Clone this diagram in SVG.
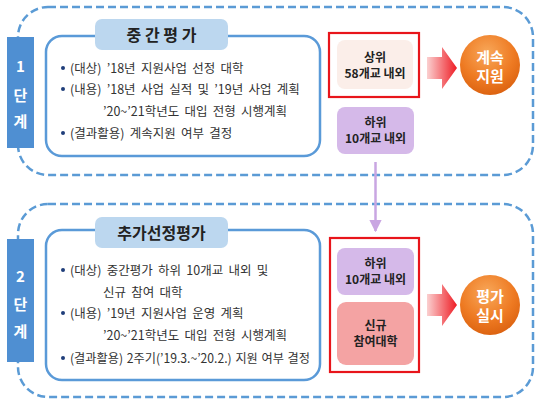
<svg xmlns="http://www.w3.org/2000/svg" width="540" height="405" viewBox="0 0 540 405">
<defs>
<style>
.outer{fill:none;stroke:#5b9bd5;stroke-width:2.5;stroke-dasharray:8 4}
.label{fill:#4f8fd2}
.lt{font-family:"Noto Sans CJK KR","Noto Sans",sans-serif;font-weight:bold;font-size:15px;fill:#fff;text-anchor:middle}
.inner{fill:#fff;stroke:#5a9ad8;stroke-width:2.5}
.pill{fill:#bcd7ef}
.title{font-family:"Noto Sans CJK KR","Noto Sans",sans-serif;font-weight:bold;font-size:16px;fill:#222;text-anchor:middle}
.body{font-family:"Noto Sans CJK KR","Noto Sans",sans-serif;font-size:12.5px;word-spacing:2.5px;fill:#333}
.dot{fill:#1f3e7a}
.redbox{fill:#fff;stroke:#e8151b;stroke-width:2.2}
.bt{font-family:"Noto Sans CJK KR","Noto Sans",sans-serif;font-weight:bold;font-size:12px;fill:#222;text-anchor:middle}
.ct{font-family:"Noto Sans CJK KR","Noto Sans",sans-serif;font-weight:bold;font-size:15px;fill:#fff;text-anchor:middle}
</style>
<linearGradient id="rg" x1="0" y1="0" x2="1" y2="0">
<stop offset="0" stop-color="#fbd0d0"/>
<stop offset="1" stop-color="#ee1c24"/>
</linearGradient>
<radialGradient id="og" cx="0.45" cy="0.3" r="0.75">
<stop offset="0" stop-color="#f8a85a"/>
<stop offset="0.6" stop-color="#ee7a22"/>
<stop offset="1" stop-color="#d95f0e"/>
</radialGradient>
<marker id="pa" viewBox="0 0 10 10" refX="9" refY="5" markerWidth="5" markerHeight="5" orient="auto">
<path d="M0,0 L10,5 L0,10 z" fill="#c9a6e2"/>
</marker>
</defs>
<rect width="540" height="405" fill="#fff"/>

<g id="stage1">
<rect class="outer" x="18" y="7" width="515" height="168" rx="30"/>
<rect class="label" x="7" y="37" width="27" height="111"/>
<text class="lt" x="20.5" y="72">1</text>
<text class="lt" x="20.5" y="101">단</text>
<text class="lt" x="20.5" y="127">계</text>
</g>

<g id="eval1">
<rect class="inner" x="46" y="36" width="274" height="120" rx="16"/>
<rect class="pill" x="95" y="19" width="133" height="31" rx="7"/>
<text class="title" x="161.5" y="41">중 간 평 가</text>
<circle class="dot" cx="63" cy="68" r="2"/>
<text class="body" x="70" y="72.5">(대상) ’18년 지원사업 선정 대학</text>
<circle class="dot" cx="63" cy="89" r="2"/>
<text class="body" x="70" y="93.5">(내용) ’18년 사업 실적 및 ’19년 사업 계획</text>
<text class="body" x="103" y="115.5">’20~’21학년도 대입 전형 시행계획</text>
<circle class="dot" cx="63" cy="133" r="2"/>
<text class="body" x="70" y="137.5">(결과활용) 계속지원 여부 결정</text>
</g>

<g id="top58">
<rect class="redbox" x="329" y="33" width="90" height="64"/>
<rect x="337" y="40" width="76" height="49" rx="8" fill="#fbeee9"/>
<text class="bt" x="375" y="62">상위</text>
<text class="bt" x="375" y="78">58개교 내외</text>
</g>

<g id="low10a">
<rect x="337" y="107" width="77" height="47" rx="8" fill="#d5b9e9"/>
<text class="bt" x="375.5" y="127">하위</text>
<text class="bt" x="375.5" y="143">10개교 내외</text>
</g>

<g id="continue">
<circle cx="490" cy="65" r="30" fill="url(#og)"/>
<text class="ct" x="490" y="63">계속</text>
<text class="ct" x="490" y="82">지원</text>
</g>

<g id="stage2">
<rect class="outer" x="18" y="204" width="515" height="193" rx="30"/>
<rect class="label" x="7" y="239" width="27" height="123"/>
<text class="lt" x="20.5" y="282">2</text>
<text class="lt" x="20.5" y="310">단</text>
<text class="lt" x="20.5" y="337">계</text>
</g>

<g id="eval2">
<rect class="inner" x="46" y="230" width="274" height="150" rx="16"/>
<rect class="pill" x="95" y="217" width="133" height="31" rx="7"/>
<text class="title" x="161.5" y="239">추가선정평가</text>
<circle class="dot" cx="63" cy="270" r="2"/>
<text class="body" x="70" y="274.5">(대상) 중간평가 하위 10개교 내외 및</text>
<text class="body" x="103" y="296.5">신규 참여 대학</text>
<circle class="dot" cx="63" cy="313" r="2"/>
<text class="body" x="70" y="317.5">(내용) ’19년 지원사업 운영 계획</text>
<text class="body" x="103" y="339.5">’20~’21학년도 대입 전형 시행계획</text>
<circle class="dot" cx="63" cy="358" r="2"/>
<text class="body" x="70" y="362.5" style="word-spacing:1px" textLength="240" lengthAdjust="spacingAndGlyphs">(결과활용) 2주기(’19.3.~’20.2.) 지원 여부 결정</text>
</g>

<g id="targets2">
<rect class="redbox" x="330" y="238" width="89" height="134"/>
<rect x="337" y="248" width="77" height="47" rx="8" fill="#d5b9e9"/>
<text class="bt" x="375.5" y="268">하위</text>
<text class="bt" x="375.5" y="284">10개교 내외</text>
<rect x="337" y="302" width="77" height="63" rx="9" fill="#f4a3a3"/>
<text class="bt" x="375.5" y="330">신규</text>
<text class="bt" x="375.5" y="346">참여대학</text>
</g>

<g id="conduct">
<circle cx="490" cy="305" r="30" fill="url(#og)"/>
<text class="ct" x="490" y="302">평가</text>
<text class="ct" x="490" y="321">실시</text>
</g>

<g id="connectors">
<line x1="375.5" y1="162" x2="375.5" y2="231" stroke="#c9a6e2" stroke-width="2.5" marker-end="url(#pa)"/>
<path d="M427,57 L442,57 L442,47 L457,68 L442,89 L442,79 L427,79 z" fill="url(#rg)"/>
<path d="M427,294 L442,294 L442,284 L457,305 L442,326 L442,316 L427,316 z" fill="url(#rg)"/>
</g>
</svg>
